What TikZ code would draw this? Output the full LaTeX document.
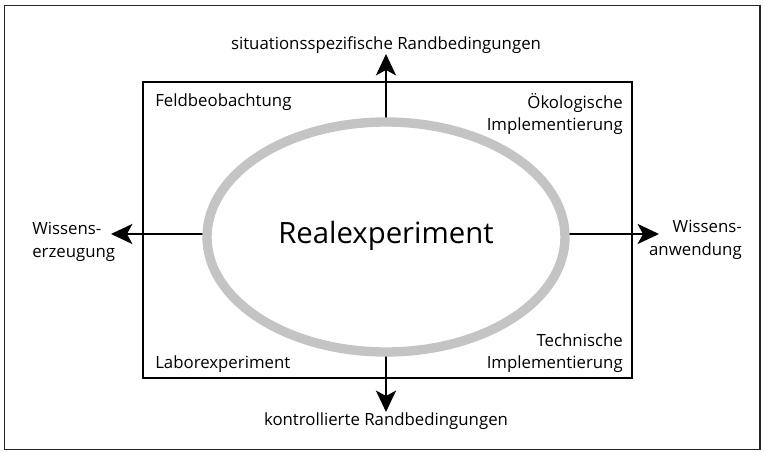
\documentclass[tikz,border=0pt]{standalone}
\usepackage{fontspec}
\setmainfont{Open Sans}
\usetikzlibrary{arrows.meta}
\begin{document}
\begin{tikzpicture}[x=0.75pt,y=-0.75pt,
  lbl/.style={font=\fontsize{12.6pt}{17pt}\selectfont, inner sep=0pt},
  arr/.style={line width=1.9pt,-{Stealth[length=16pt,width=15pt,inset=4pt]}},
  ring/.style={draw=black!23!white, line width=7pt}]
\useasboundingbox (0,0) rectangle (765,452);
\fill[white] (0,0) rectangle (765,452);
\draw[line width=1.2pt, black!85] (4.5,5.5) rectangle (760,449.5);
\node[draw, line width=1.6pt, minimum width=489*0.75pt, minimum height=296*0.75pt, inner sep=0pt] (box) at (387.5,230) {};
% center ring
\coordinate (c) at (386,237);
\coordinate (top) at (386,120);
\coordinate (bot) at (386,354);
\coordinate (lft) at (207,237);
\coordinate (rgt) at (565,237);
\coordinate (tT) at (386,54);
\coordinate (tB) at (386,412);
\coordinate (tL) at (111,234);
\coordinate (tR) at (659,234);
\draw[arr] (top) -- (tT);
\draw[arr] (bot) -- (tB);
\draw[arr] (lft) |- (tL);
\draw[arr] (rgt) |- (tR);
\draw[ring] (c) ellipse [x radius=179, y radius=115];
\node[font=\fontsize{22pt}{28pt}\selectfont, inner sep=0pt] (real) at (386,236) {Realexperiment};
\node[lbl] (sit) at (386,45) {situationsspezifische Randbedingungen};
\node[lbl] (kon) at (386,421) {kontrollierte Randbedingungen};
\node[lbl, anchor=west] (feld) at (155,102) {Feldbeobachtung};
\node[lbl, anchor=west] (labor) at (155,364) {Laborexperiment};
\node[lbl, anchor=east, align=right] (oeko) at (623,114) {Ökologische\\Implementierung};
\node[lbl, anchor=east, align=right] (tech) at (623,353) {Technische\\Implementierung};
\node[lbl, anchor=west, align=left] (erz) at (32,242) {Wissens-\\erzeugung};
\node[lbl, anchor=east, align=right] (anw) at (742,240) {Wissens-\\anwendung};
\end{tikzpicture}
\end{document}
